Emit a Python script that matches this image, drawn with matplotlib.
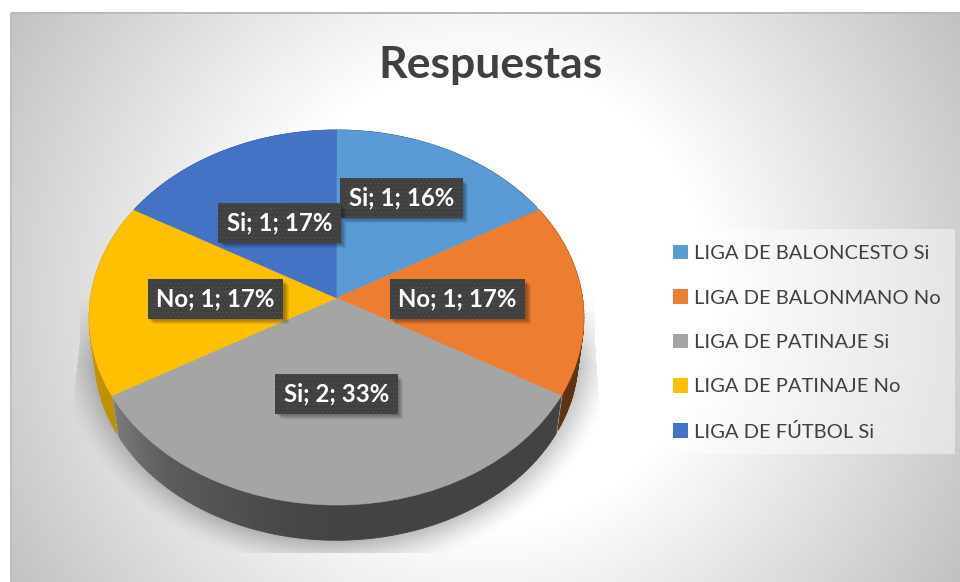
import numpy as np
import matplotlib
matplotlib.use("Agg")
import matplotlib.pyplot as plt
from matplotlib.collections import PolyCollection
from matplotlib.patches import Patch, Rectangle
from matplotlib.transforms import Transform

# ---- data ----
series_names = ["LIGA DE BALONCESTO Si", "LIGA DE BALONMANO No", "LIGA DE PATINAJE Si",
                "LIGA DE PATINAJE No", "LIGA DE FÚTBOL Si"]
values = [1, 1, 2, 1, 1]
answers = ["Si", "No", "Si", "No", "Si"]
percents = [16, 17, 33, 17, 17]
colors = ["#5B9BD5", "#ED7D31", "#A5A5A5", "#FFC000", "#4472C4"]
title = "Respuestas"

W, H = 960, 582
plt.rcParams["font.family"] = ["Lato", "DejaVu Sans"]
plt.rcParams["hatch.linewidth"] = 0.6
fig = plt.figure(figsize=(W / 100, H / 100), dpi=100)
ax = fig.add_axes([0, 0, 1, 1])


class Persp(Transform):
    """Perspective view of the unit pie, output in pixel-like data units."""
    input_dims = output_dims = 2
    is_separable = False
    has_inverse = False

    def __init__(self, cx, cy, a, b, k):
        super().__init__()
        self.p = (cx, cy, a, b, k)

    def transform_non_affine(self, values):
        cx, cy, a, b, k = self.p
        v = np.asarray(values, float)
        w = 1 + k * v[:, 1]
        return np.column_stack([cx + a * v[:, 0] / w, cy - b * v[:, 1] / w])


top_view = Persp(336.5, 298, 246, 185.5, 0.104)
base_view = Persp(336.5, 338, 246 * 0.977, 185.5 * 0.977, 0.104)

# ---- background + soft shadow ----
yy, xx = np.mgrid[0:H, 0:W] + 0.5
dist = np.hypot(xx - 483, yy - 297)
bg = np.clip(255 - np.clip(dist - 230, 0, None) * 0.19, 0, 255)
rho = np.hypot((xx - 336.5) / 241, (yy - 338) / 202)
d = (rho - 1) * 222
s = 0.27 * np.clip(1 - d / 36, 0, 1) ** 1.4
s *= np.clip((yy - 295) / 70, 0, 1)
left_edge = np.interp(yy, [340, 415], [80, 72])
right_edge = np.interp(yy, [340, 415], [595, 600])
s[(xx < left_edge) | (xx > right_edge) | (yy > 553)] = 0
bg = bg * (1 - s)
bg[:, :11] = 255
bg[:13, :] = 255
bg[12:14, 11:] = np.minimum(bg[12:14, 11:], 185)
bg[13:, 10:12] = np.minimum(bg[13:, 10:12], 190)
ax.imshow(np.dstack([bg] * 3) / 255, extent=(0, W, H, 0), aspect="auto",
          interpolation="nearest", zorder=0)

# ---- pie top face ----
wedges, _ = ax.pie(values, colors=colors, startangle=90, counterclock=False,
                   wedgeprops=dict(linewidth=0.4, zorder=3))
for w, c in zip(wedges, colors):
    w.set_transform(top_view + ax.transData)
    w.set_edgecolor(c)

# ---- pie side wall ----
light_t = [0, 120, 180, 190, 220, 240, 300, 360]
light_f = [.4, .4, .41, .43, .56, .75, .8, .8]
polys, fills = [], []
for w, c in zip(wedges, colors):
    # wedge angles are measured counter-clockwise from +x; convert to clockwise from top
    start, end = 90 - w.theta2, 90 - w.theta1
    edges = np.arange(start, end + 1e-6, 1.0)
    for t0, t1 in zip(edges[:-1], edges[1:]):
        tt = np.radians([t0, t1])
        rim = np.column_stack([np.sin(tt), np.cos(tt)])
        a = top_view.transform(rim)
        b = base_view.transform(rim)
        polys.append(np.vstack([a, b[::-1]]))
        f = np.interp((t0 + t1) / 2 % 360, light_t, light_f)
        fills.append(tuple(f * x for x in matplotlib.colors.to_rgb(c)))
ax.add_collection(PolyCollection(polys, facecolors=fills, edgecolors=fills,
                                 linewidths=0.6, zorder=2))

ax.set_xlim(0, W)
ax.set_ylim(H, 0)
ax.set_aspect("auto")
ax.axis("off")

# ---- data labels ----
label_centers = [(401.5, 198), (457.5, 299), (336.5, 394), (215.5, 299), (279.5, 223)]
renderer = fig.canvas.get_renderer()
for i in range(len(values)):
    txt = f"{answers[i]}; {values[i]}; {percents[i]}%"
    cx, cy = label_centers[i]
    z = 5 + i * 0.01
    t = ax.text(cx, cy, txt, color="white", fontsize=17.3, fontweight="bold",
                ha="center", va="center", zorder=z,
                bbox=dict(boxstyle="square,pad=0.35", facecolor="#404040", edgecolor="#4f4f4f",
                          hatch="....", linewidth=0))
    t.update_bbox_position_size(renderer)
    ext = t.get_bbox_patch().get_window_extent(renderer)
    for off in (5.5, 4.5, 3.5, 2.5, 1.5):
        ax.add_patch(Rectangle((ext.x0 + off, H - ext.y1 + off), ext.width, ext.height,
                               facecolor="black", alpha=0.08, linewidth=0, zorder=z - 0.001))

# ---- title ----
ax.text(490, 65, title, color="#404040", fontsize=32, fontweight="bold",
        ha="center", va="center", zorder=6)

# ---- legend ----
ax.add_patch(Rectangle((662, 229), 293, 225, facecolor="white", alpha=0.45, linewidth=0, zorder=4))
handles = [Patch(facecolor=c, linewidth=0) for c in colors]
leg = ax.legend(handles, series_names, loc="upper left", bbox_to_anchor=(673.2, 245),
                bbox_transform=ax.transData, frameon=False, fontsize=14.5, borderaxespad=0,
                borderpad=0, handlelength=0.72, handleheight=0.72, handletextpad=0.3,
                labelspacing=1.35, labelcolor="#404040")
leg.set_zorder(6)

fig.savefig("out.png", dpi=100)
